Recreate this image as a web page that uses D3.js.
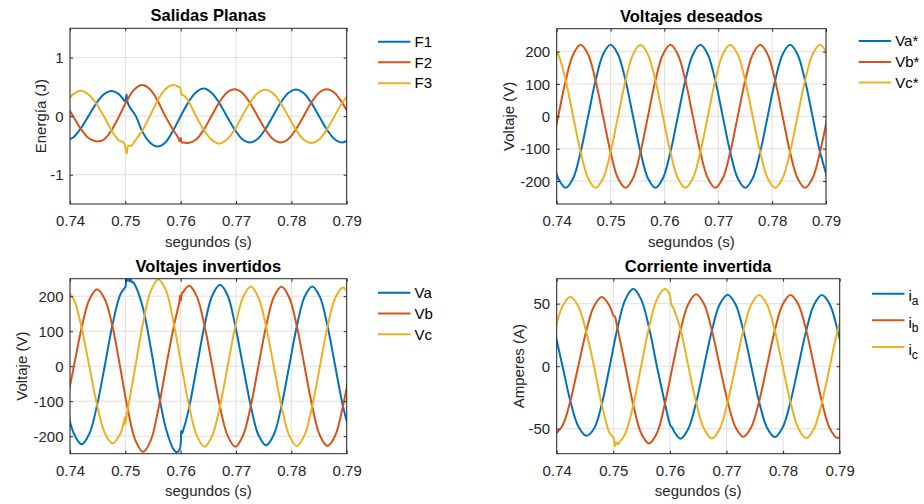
<!DOCTYPE html>
<html>
<head>
<meta charset="utf-8">
<script src="https://cdn.jsdelivr.net/npm/d3@7"></script>
<style>
  html, body { margin: 0; padding: 0; background: #fff; }
  svg { display: block; font-family: "Liberation Sans", Arial, Helvetica, sans-serif; }
</style>
</head>
<body>
<svg id="fig" width="924" height="504"></svg>
<script>
// ---------- shared axis data ----------
const timeTicks = [0.74, 0.75, 0.76, 0.77, 0.78, 0.79];
const timeDomain = [0.74, 0.79];
const colors = ["#0072BD", "#D95319", "#EDB120"];

// ---------- Salidas Planas (energia, J) : [t, value] ----------
const f1 = [[0.73917,-0.42],[0.74056,-0.364],[0.74194,-0.21],[0.74333,0],[0.74472,0.215],[0.74611,0.372],[0.7475,0.43],[0.74889,0.372],[0.75,0.25],[0.75012,0.30],[0.75022,0.37],[0.75035,0.26],[0.75065,0.18],[0.7519,0],[0.75306,-0.26],[0.75444,-0.45],[0.75583,-0.52],[0.75722,-0.45],[0.75861,-0.25],[0.76,0],[0.76139,0.235],[0.76278,0.407],[0.76417,0.47],[0.76556,0.40],[0.76694,0.23],[0.76833,0],[0.76972,-0.225],[0.77111,-0.39],[0.7725,-0.45],[0.77389,-0.39],[0.77528,-0.226],[0.77667,0],[0.77806,0.228],[0.77944,0.394],[0.78083,0.455],[0.78222,0.394],[0.78361,0.226],[0.785,0],[0.78639,-0.225],[0.78778,-0.39],[0.78917,-0.45],[0.79056,-0.39]];
const f2 = [[0.73917,0.215],[0.74056,0],[0.74194,-0.215],[0.74333,-0.372],[0.74472,-0.43],[0.74611,-0.40],[0.7475,-0.24],[0.74889,0],[0.75028,0.265],[0.75167,0.459],[0.75306,0.53],[0.75444,0.459],[0.75583,0.265],[0.75722,0],[0.75861,-0.23],[0.7595,-0.36],[0.7598,-0.43],[0.76,-0.37],[0.7602,-0.45],[0.7606,-0.45],[0.76139,-0.46],[0.76278,-0.40],[0.76417,-0.23],[0.76556,0],[0.76694,0.23],[0.76833,0.40],[0.76972,0.46],[0.77111,0.40],[0.7725,0.23],[0.77389,0],[0.77528,-0.225],[0.77667,-0.39],[0.77806,-0.45],[0.77944,-0.39],[0.78083,-0.225],[0.78222,0],[0.78361,0.23],[0.785,0.40],[0.78639,0.46],[0.78778,0.40],[0.78917,0.23],[0.79056,0]];
const f3 = [[0.73917,0.215],[0.74056,0.372],[0.74194,0.435],[0.74333,0.372],[0.74472,0.215],[0.74611,0],[0.7475,-0.24],[0.74889,-0.42],[0.7496,-0.44],[0.74985,-0.48],[0.7501,-0.58],[0.75025,-0.64],[0.75045,-0.52],[0.7507,-0.50],[0.751,-0.51],[0.7513,-0.48],[0.75167,-0.43],[0.75306,-0.25],[0.75444,0],[0.75583,0.265],[0.75722,0.46],[0.75861,0.53],[0.7596,0.50],[0.75995,0.48],[0.7601,0.40],[0.76025,0.36],[0.76045,0.36],[0.7608,0.33],[0.76139,0.26],[0.76278,0],[0.76417,-0.235],[0.76556,-0.40],[0.76694,-0.47],[0.76833,-0.40],[0.76972,-0.235],[0.77111,0],[0.7725,0.225],[0.77389,0.39],[0.77528,0.45],[0.77667,0.39],[0.77806,0.225],[0.77944,0],[0.78083,-0.23],[0.78222,-0.40],[0.78361,-0.46],[0.785,-0.40],[0.78639,-0.23],[0.78778,0],[0.78917,0.225],[0.79056,0.39]];

// ---------- Voltajes deseados (V) : shared time base ----------
const deseadoT = [0.73889,0.74028,0.74167,0.74306,0.74444,0.74583,0.74722,0.74861,0.75,0.75139,0.75278,0.75417,0.75556,0.75694,0.75833,0.75972,0.76111,0.7625,0.76389,0.76528,0.76667,0.76806,0.76944,0.77083,0.77222,0.77361,0.775,0.77639,0.77778,0.77917,0.78056,0.78194,0.78333,0.78472,0.78611,0.7875,0.78889,0.79028];
const vaRef = [-110.5,-191.4,-221,-191.4,-110.5,0,110.5,191.4,221,191.4,110.5,0,-110.5,-191.4,-221,-191.4,-110.5,0,110.5,191.4,221,191.4,110.5,0,-110.5,-191.4,-221,-191.4,-110.5,0,110.5,191.4,221,191.4,110.5,0,-110.5,-191.4];
const vbRef = [-110.5,0,110.5,191.4,221,191.4,110.5,0,-110.5,-191.4,-221,-191.4,-110.5,0,110.5,191.4,221,191.4,110.5,0,-110.5,-191.4,-221,-191.4,-110.5,0,110.5,191.4,221,191.4,110.5,0,-110.5,-191.4,-221,-191.4,-110.5,0];
const vcRef = [221,191.4,110.5,0,-110.5,-191.4,-221,-191.4,-110.5,0,110.5,191.4,221,191.4,110.5,0,-110.5,-191.4,-221,-191.4,-110.5,0,110.5,191.4,221,191.4,110.5,0,-110.5,-191.4,-221,-191.4,-110.5,0,110.5,191.4,221,191.4];

// ---------- Voltajes invertidos (V) : [t, value] ----------
const va = [[0.73932,-112],[0.74071,-193],[0.7421,-223],[0.74349,-193],[0.74488,-112],[0.74627,0],[0.74766,117],[0.74904,203],[0.7498,222],[0.75005,228],[0.75015,252],[0.75028,253],[0.7504,244],[0.7506,249],[0.7508,242],[0.751,247],[0.7512,240],[0.7514,240],[0.75182,230],[0.75321,165],[0.7546,52],[0.75599,-75],[0.75738,-181],[0.75877,-239],[0.7594,-246],[0.7598,-238],[0.75995,-230],[0.76005,-205],[0.7601,-185],[0.7603,-192],[0.7605,-180],[0.7608,-165],[0.76154,-117],[0.76293,0],[0.76432,117],[0.76571,202],[0.7671,233],[0.76849,202],[0.76988,114],[0.77127,0],[0.77266,-113],[0.77404,-196],[0.77543,-226],[0.77682,-196],[0.77821,-114],[0.7796,0],[0.78099,114],[0.78238,198],[0.78377,228],[0.78516,198],[0.78654,114],[0.78793,0],[0.78932,-114],[0.79071,-197]];
const vb = [[0.73932,-110],[0.74071,0],[0.7421,110],[0.74349,190],[0.74488,220],[0.74627,192],[0.74766,115],[0.74904,0],[0.75043,-122],[0.75182,-212],[0.75321,-245],[0.7546,-212],[0.75599,-120],[0.75738,0],[0.75877,115],[0.75975,183],[0.7599,202],[0.76005,188],[0.7602,207],[0.76045,212],[0.76154,230],[0.76293,199],[0.76432,115],[0.76571,0],[0.7671,-115],[0.76849,-199],[0.76988,-230],[0.77127,-198],[0.77266,-114],[0.77404,0],[0.77543,114],[0.77682,197],[0.77821,227],[0.7796,197],[0.78099,114],[0.78238,0],[0.78377,-114],[0.78516,-198],[0.78654,-228],[0.78793,-198],[0.78932,-114],[0.79071,0]];
const vc = [[0.73932,220],[0.74071,190],[0.7421,110],[0.74349,0],[0.74488,-110],[0.74627,-190],[0.74766,-220],[0.74904,-195],[0.74975,-158],[0.7499,-146],[0.75,-166],[0.75012,-150],[0.75025,-138],[0.75043,-124],[0.75182,0],[0.75321,124],[0.7546,215],[0.75599,248],[0.75738,215],[0.75877,120],[0.76016,0],[0.76154,-115],[0.76293,-199],[0.76432,-230],[0.76571,-198],[0.7671,-114],[0.76849,0],[0.76988,114],[0.77127,197],[0.77266,228],[0.77404,197],[0.77543,114],[0.77682,0],[0.77821,-114],[0.7796,-197],[0.78099,-228],[0.78238,-197],[0.78377,-114],[0.78516,0],[0.78654,113],[0.78793,195],[0.78932,225],[0.79071,195]];

// ---------- Corriente invertida (A) : [t, value] ----------
const ia = [[0.73964,28],[0.74103,0],[0.74242,-28],[0.74381,-48],[0.7452,-55.6],[0.74659,-50],[0.74798,-30],[0.74937,0],[0.75076,31],[0.75214,53.5],[0.75353,62],[0.75492,53.5],[0.75631,31],[0.7577,0],[0.75909,-29],[0.7599,-45],[0.76015,-48],[0.7604,-49],[0.76065,-51.5],[0.76187,-58],[0.76326,-50],[0.76464,-29],[0.76603,0],[0.76742,28.6],[0.76881,49.5],[0.7702,57.2],[0.77159,49.5],[0.77298,28.5],[0.77437,0],[0.77576,-28.4],[0.77714,-49],[0.77853,-56.7],[0.77992,-49],[0.78131,-28.4],[0.7827,0],[0.78409,28.5],[0.78548,49.4],[0.78687,57],[0.78826,49.4],[0.78964,28.5],[0.79103,0]];
const ib = [[0.73964,-55],[0.74103,-47.6],[0.74242,-27.6],[0.74381,0],[0.7452,27.7],[0.74659,47.9],[0.74798,55.3],[0.74937,48],[0.7498,43],[0.75005,40.5],[0.7503,39.5],[0.75055,35],[0.75076,30],[0.75214,0],[0.75353,-31],[0.75492,-53.6],[0.75631,-61.8],[0.7577,-53.6],[0.75909,-30.5],[0.76048,0],[0.76187,28.7],[0.76326,49.8],[0.76464,57.5],[0.76603,49.8],[0.76742,28.5],[0.76881,0],[0.7702,-28.2],[0.77159,-48.8],[0.77298,-56.4],[0.77437,-48.9],[0.77576,-28.3],[0.77714,0],[0.77853,28.5],[0.77992,49.4],[0.78131,57],[0.7827,49.4],[0.78409,28.6],[0.78548,0],[0.78687,-28.7],[0.78826,-49.8],[0.78964,-57.5],[0.79103,-49.8]];
const ic = [[0.73964,27.8],[0.74103,48],[0.74242,55.6],[0.74381,48],[0.7452,27.8],[0.74659,0],[0.74798,-31],[0.74937,-53.7],[0.74985,-56],[0.7501,-58],[0.7503,-64],[0.75045,-62],[0.7506,-61],[0.75085,-62.5],[0.7511,-61],[0.75214,-53.7],[0.75353,-31],[0.75492,0],[0.75631,31],[0.7577,53.5],[0.75909,61.8],[0.7599,58],[0.7601,54],[0.76025,49.5],[0.7605,47.5],[0.7608,44.5],[0.76187,29.5],[0.76326,0],[0.76464,-29],[0.76603,-50],[0.76742,-57.8],[0.76881,-50],[0.7702,-28.8],[0.77159,0],[0.77298,28.5],[0.77437,49.4],[0.77576,57],[0.77714,49.4],[0.77853,28.6],[0.77992,0],[0.78131,-28.7],[0.7827,-49.8],[0.78409,-57.5],[0.78548,-49.8],[0.78687,-28.7],[0.78826,0],[0.78964,28.5],[0.79103,49.4]];

// ---------- panel layout ----------
const zipRef = vals => deseadoT.map((t, i) => [t, vals[i]]);

const panels = [
  { title: "Salidas Planas", ylabel: "Energía (J)",
    box: { x0: 70, x1: 346.7, y0: 28.3, y1: 204 },
    yDomain: [-1.5, 1.5], yTicks: [-1, 0, 1],
    series: [f1, f2, f3], names: ["F1", "F2", "F3"],
    ylabX: 45.5, legend: { x: 378, rows: [41.7, 62.3, 83.2] } },
  { title: "Voltajes deseados", ylabel: "Voltaje (V)",
    box: { x0: 556.7, x1: 826, y0: 28.7, y1: 204 },
    yDomain: [-271, 271], yTicks: [-200, -100, 0, 100, 200],
    series: [zipRef(vaRef), zipRef(vbRef), zipRef(vcRef)], names: ["Va*", "Vb*", "Vc*"],
    ylabX: 514, legend: { x: 858.7, rows: [41, 62, 82.6] } },
  { title: "Voltajes invertidos", ylabel: "Voltaje (V)",
    box: { x0: 70, x1: 346.7, y0: 278.7, y1: 453.7 },
    yDomain: [-250, 250], yTicks: [-200, -100, 0, 100, 200],
    series: [va, vb, vc], names: ["Va", "Vb", "Vc"],
    ylabX: 27.3, legend: { x: 378, rows: [292.7, 313.6, 334.3] } },
  { title: "Corriente invertida", ylabel: "Amperes (A)",
    box: { x0: 556.7, x1: 839.7, y0: 278.7, y1: 453.7 },
    yDomain: [-70, 70], yTicks: [-50, 0, 50],
    series: [ia, ib, ic], names: [["i", "a"], ["i", "b"], ["i", "c"]],
    ylabX: 523.5, legend: { x: 872, rows: [293.7, 320.3, 347] } }
];

const svg = d3.select("#fig");
svg.append("rect").attr("width", 924).attr("height", 504).attr("fill", "#fff");

const axisColor = "#262626";
const gridColor = "#dfdfdf";
const tickLen = 3;

panels.forEach((p, pi) => {
  const b = p.box;
  const x = d3.scaleLinear().domain(timeDomain).range([b.x0, b.x1]);
  const y = d3.scaleLinear().domain(p.yDomain).range([b.y1, b.y0]);
  const g = svg.append("g");

  // plot background
  g.append("rect").attr("x", b.x0).attr("y", b.y0)
    .attr("width", b.x1 - b.x0).attr("height", b.y1 - b.y0).attr("fill", "#fff");

  // grid
  g.append("g").selectAll("line").data(timeTicks).join("line")
    .attr("x1", d => x(d)).attr("x2", d => x(d))
    .attr("y1", b.y0).attr("y2", b.y1)
    .attr("stroke", gridColor).attr("stroke-width", 1);
  g.append("g").selectAll("line").data(p.yTicks).join("line")
    .attr("x1", b.x0).attr("x2", b.x1)
    .attr("y1", d => y(d)).attr("y2", d => y(d))
    .attr("stroke", gridColor).attr("stroke-width", 1);

  // data lines, clipped to the plot box
  const clipId = "clip" + pi;
  svg.append("clipPath").attr("id", clipId).append("rect")
    .attr("x", b.x0).attr("y", b.y0).attr("width", b.x1 - b.x0).attr("height", b.y1 - b.y0);
  const line = d3.line().x(d => x(d[0])).y(d => y(d[1]))
    .curve(d3.curveCatmullRom.alpha(0.5));
  const lg = g.append("g").attr("clip-path", `url(#${clipId})`);
  p.series.forEach((s, i) => {
    lg.append("path").datum(s).attr("d", line)
      .attr("fill", "none").attr("stroke", colors[i])
      .attr("stroke-width", 2).attr("stroke-linejoin", "round");
  });

  // frame
  g.append("rect").attr("x", b.x0).attr("y", b.y0)
    .attr("width", b.x1 - b.x0).attr("height", b.y1 - b.y0)
    .attr("fill", "none").attr("stroke", axisColor).attr("stroke-width", 1);

  // bottom / top ticks (inward) and labels
  const xAxis = d3.axisBottom(x).tickValues(timeTicks).tickSize(-tickLen)
    .tickPadding(0).tickFormat(d3.format(".2f"));
  const xa = g.append("g").attr("transform", `translate(0,${b.y1})`).call(xAxis);
  xa.select(".domain").remove();
  xa.selectAll("line").attr("stroke", axisColor);
  xa.selectAll("text").attr("y", 22).attr("dy", null)
    .attr("fill", axisColor).style("font-size", "15px")
    .style("font-family", "'Liberation Sans', Arial, sans-serif");
  const xt = g.append("g").attr("transform", `translate(0,${b.y0})`)
    .call(d3.axisTop(x).tickValues(timeTicks).tickSize(-tickLen).tickFormat(""));
  xt.select(".domain").remove();
  xt.selectAll("line").attr("stroke", axisColor);

  // left / right ticks and labels
  const yAxis = d3.axisLeft(y).tickValues(p.yTicks).tickSize(-tickLen)
    .tickPadding(0).tickFormat(d => String(d));
  const ya = g.append("g").attr("transform", `translate(${b.x0},0)`).call(yAxis);
  ya.select(".domain").remove();
  ya.selectAll("line").attr("stroke", axisColor);
  ya.selectAll("text").attr("x", -6.5).attr("dy", "0.35em")
    .attr("fill", axisColor).style("font-size", "15px")
    .style("font-family", "'Liberation Sans', Arial, sans-serif");
  const yr = g.append("g").attr("transform", `translate(${b.x1},0)`)
    .call(d3.axisRight(y).tickValues(p.yTicks).tickSize(-tickLen).tickFormat(""));
  yr.select(".domain").remove();
  yr.selectAll("line").attr("stroke", axisColor);

  // title and axis labels
  const cx = (b.x0 + b.x1) / 2;
  g.append("text").attr("x", cx).attr("y", b.y0 - 7)
    .attr("text-anchor", "middle").attr("fill", "#000")
    .style("font-size", "16.5px").style("font-weight", "bold").text(p.title);
  g.append("text").attr("x", cx).attr("y", b.y1 + 42.5)
    .attr("text-anchor", "middle").attr("fill", axisColor)
    .style("font-size", "15px").text("segundos (s)");
  g.append("text")
    .attr("transform", `translate(${p.ylabX},${(b.y0 + b.y1) / 2}) rotate(-90)`)
    .attr("text-anchor", "middle").attr("fill", axisColor)
    .style("font-size", "15px").text(p.ylabel);

  // legend
  p.names.forEach((n, i) => {
    const ry = p.legend.rows[i];
    g.append("line").attr("x1", p.legend.x).attr("x2", p.legend.x + 32.5)
      .attr("y1", ry).attr("y2", ry)
      .attr("stroke", colors[i]).attr("stroke-width", 2);
    const t = g.append("text").attr("x", p.legend.x + 36.5)
      .attr("fill", "#000").style("font-size", "15px");
    if (Array.isArray(n)) {
      t.attr("y", ry + 7.5);
      t.append("tspan").text(n[0]);
      t.append("tspan").attr("dy", 4).style("font-size", "12px").text(n[1]);
    } else {
      t.attr("y", ry).attr("dy", "0.35em").text(n);
    }
  });
});
</script>
</body>
</html>
